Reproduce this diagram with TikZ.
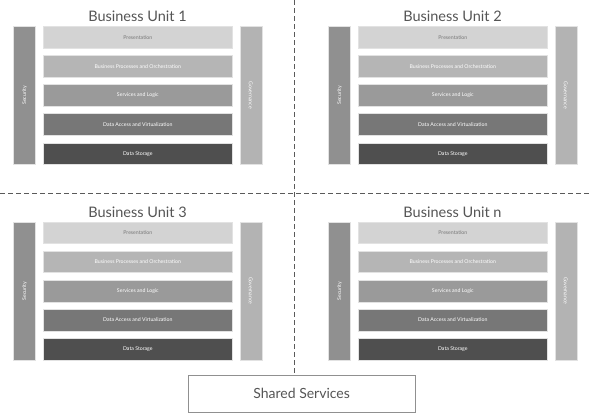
\documentclass[tikz,border=0pt]{standalone}
\usepackage{fontspec}
\setmainfont{Lato}
\definecolor{cPres}{HTML}{D3D3D3}
\definecolor{cBP}{HTML}{B5B5B5}
\definecolor{cSvc}{HTML}{9A9A9A}
\definecolor{cDA}{HTML}{777777}
\definecolor{cDS}{HTML}{4F4F4F}
\definecolor{cSec}{HTML}{909090}
\definecolor{cGov}{HTML}{B3B3B3}
\definecolor{cEdge}{HTML}{E2E2E2}
\definecolor{cTitle}{HTML}{555555}
\definecolor{cDash}{HTML}{5A5A5A}
\begin{document}
\begin{tikzpicture}[x=1pt,y=-1pt,
  layerbox/.style={draw=cEdge,line width=0.6pt,minimum width=188.5pt,minimum height=21.7pt,inner sep=0pt,anchor=north west,font=\fontsize{5.2}{6}\selectfont,text=white},
  sidebar/.style={draw=cEdge,line width=0.6pt,minimum width=22pt,minimum height=138pt,inner sep=0pt,anchor=north west,font=\fontsize{5.2}{6}\selectfont,text=white},
  unittitle/.style={font=\fontsize{14.5}{16}\selectfont,text=cTitle,anchor=base},
  divider/.style={draw=cDash,line width=0.8pt,dash pattern=on 5pt off 3pt}]
\useasboundingbox (0,0) rectangle (590,413);
\fill[white] (0,0) rectangle (590,413);
\foreach \ox/\oy/\n/\t in {0/0/a/Business Unit 1, 315/0/b/Business Unit 2, 0/195.5/c/Business Unit 3, 315/195.5/d/Business Unit n}{
  \begin{scope}[shift={(\ox,\oy)}]
    \node[unittitle] (\n-title) at (137.5,21.5) {\t};
    \node[sidebar,fill=cSec] (\n-sec) at (13.3,26) {\rotatebox{90}{Security}};
    \node[sidebar,fill=cGov] (\n-gov) at (239.5,26) {\rotatebox{-90}{Governance}};
    \node[layerbox,fill=cPres,text=cTitle!80] (\n-pres) at (43.3,26) {Presentation};
    \node[layerbox,fill=cBP] (\n-bp) at (43.3,55) {Business Processes and Orchestration};
    \node[layerbox,fill=cSvc] (\n-svc) at (43.3,84.3) {Services and Logic};
    \node[layerbox,fill=cDA] (\n-da) at (43.3,113.4) {Data Access and Virtualization};
    \node[layerbox,fill=cDS] (\n-ds) at (43.3,142.6) {Data Storage};
  \end{scope}
}
\node[draw=cSec,line width=0.8pt,minimum width=227.5pt,minimum height=36.5pt,inner sep=0pt,anchor=north west,font=\fontsize{14}{16}\selectfont,text=cTitle] (shared) at (187.5,375) {Shared Services};
\coordinate (vtop) at (294,0);
\coordinate (hl) at (0,193.5);
\coordinate (hr) at (590,193.5);
\draw[divider] (hl) -- (hr);
\draw[divider] (vtop) -- (shared.north -| vtop);
\end{tikzpicture}
\end{document}
